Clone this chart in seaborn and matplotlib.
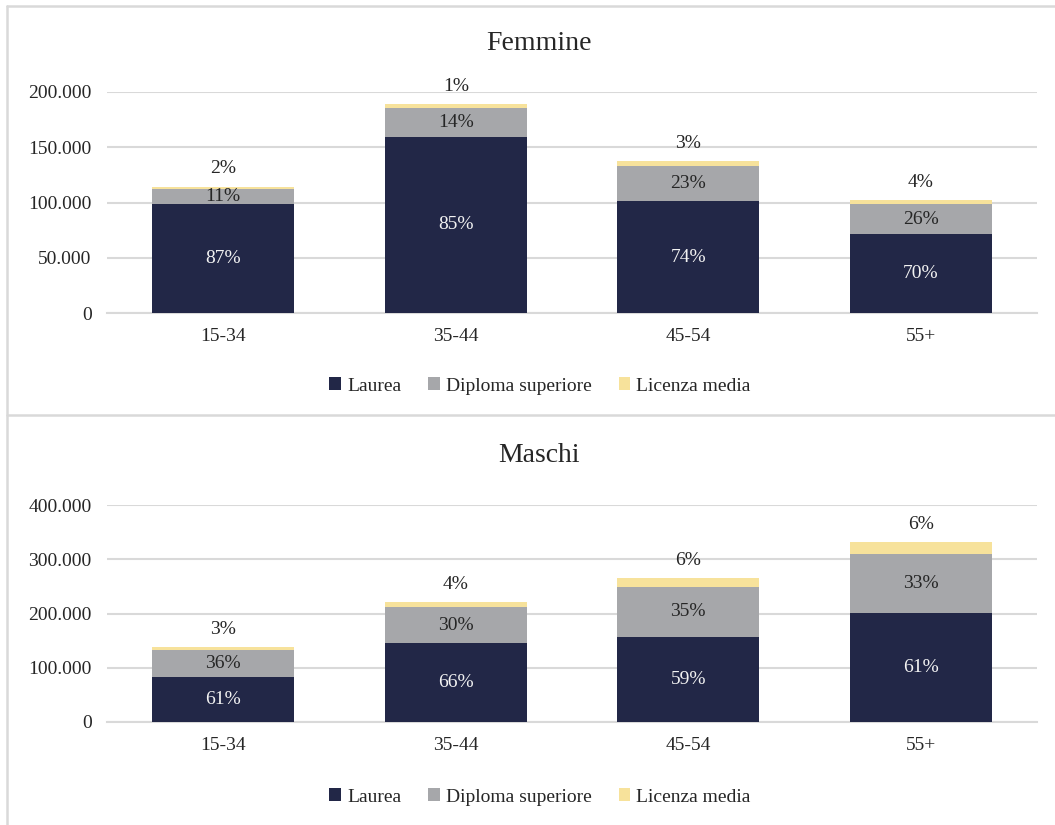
import numpy as np
import pandas as pd
import matplotlib
matplotlib.use("Agg")
import matplotlib.pyplot as plt
from matplotlib.patches import Patch
from matplotlib.lines import Line2D
import seaborn as sns

# ---- data ----
age_groups = ["15-34", "35-44", "45-54", "55+"]
series_names = ["Laurea", "Diploma superiore", "Licenza media"]

f_laurea = [99000, 159500, 101000, 71500]
f_diploma = [12800, 26300, 32000, 27000]
f_licenza = [2300, 3100, 4200, 3600]
f_lab_laurea = ["87%", "85%", "74%", "70%"]
f_lab_diploma = ["11%", "14%", "23%", "26%"]
f_lab_licenza = ["2%", "1%", "3%", "4%"]

m_laurea = [83500, 145000, 157000, 201000]
m_diploma = [50000, 67000, 92000, 109000]
m_licenza = [4500, 9000, 16000, 21000]
m_lab_laurea = ["61%", "66%", "59%", "61%"]
m_lab_diploma = ["36%", "30%", "35%", "33%"]
m_lab_licenza = ["3%", "4%", "6%", "6%"]

f_yticks = [0, 50000, 100000, 150000, 200000]
m_yticks = [0, 100000, 200000, 300000, 400000]

colors = ["#222747", "#A6A7AA", "#F7E29B"]
GRID = "#D9D9D9"
TXT = "#262626"

sns.set_theme(style="white")
plt.rcParams["font.family"] = ["Liberation Serif", "DejaVu Serif"]

fig = plt.figure(figsize=(10.55, 8.25), dpi=100)
W, H = 1055, 825
FS = 14


def fmt(v):
    return f"{int(v):,}".replace(",", ".")


def panel(rect, title, title_y, legend_y, laurea, diploma, licenza,
          lab_l, lab_d, lab_s, yticks):
    ax = fig.add_axes(rect)
    df = pd.DataFrame({
        "age": age_groups,
        "laurea": laurea,
        "diploma": diploma,
        "licenza": licenza,
    })
    df["cum2"] = df["laurea"] + df["diploma"]
    df["cum3"] = df["cum2"] + df["licenza"]
    for col, c in [("cum3", colors[2]), ("cum2", colors[1]), ("laurea", colors[0])]:
        sns.barplot(data=df, x="age", y=col, color=c, width=0.61,
                    saturation=1, ax=ax, zorder=3, linewidth=0,
                    edgecolor=c)
    for i in range(len(age_groups)):
        ax.text(i, df["laurea"][i] / 2, lab_l[i], ha="center", va="center",
                color="#F2F2F2", fontsize=FS, zorder=5)
        ax.text(i, df["laurea"][i] + df["diploma"][i] / 2, lab_d[i],
                ha="center", va="center", color=TXT, fontsize=FS, zorder=5)
        ax.annotate(lab_s[i], (i, df["cum3"][i]), xytext=(0, 13),
                    textcoords="offset points", ha="center", va="center",
                    color=TXT, fontsize=FS, zorder=5, annotation_clip=False)
    ax.set_ylim(yticks[0], yticks[-1])
    ax.set_xlim(-0.5, 3.5)
    ax.set_yticks(yticks)
    ax.set_yticklabels([fmt(v) for v in yticks], fontsize=FS, color=TXT)
    ax.set_xticks(range(len(age_groups)))
    ax.set_xticklabels(age_groups, fontsize=FS, color=TXT)
    ax.tick_params(axis="y", length=0, pad=11)
    ax.tick_params(axis="x", length=0, pad=11)
    ax.set_xlabel("")
    ax.set_ylabel("")
    ax.grid(axis="y", color=GRID, linewidth=1.5, zorder=0)
    ax.set_axisbelow(True)
    for s in ["top", "right", "left"]:
        ax.spines[s].set_visible(False)
    ax.spines["bottom"].set_color(GRID)
    ax.spines["bottom"].set_linewidth(1.5)
    fig.text(539 / W, 1 - title_y / H, title, ha="center", va="center",
             fontsize=20, color=TXT)
    handles = [Patch(facecolor=c, edgecolor="none") for c in colors]
    fig.legend(handles, series_names, loc="center",
               bbox_to_anchor=(540 / W, 1 - legend_y / H), ncol=3,
               frameon=False, fontsize=FS, handlelength=0.6,
               handleheight=0.6, handletextpad=0.3, columnspacing=1.4)
    return ax


panel([107 / W, 1 - 313 / H, 930 / W, 221 / H], "Femmine", 44, 386,
      f_laurea, f_diploma, f_licenza, f_lab_laurea, f_lab_diploma,
      f_lab_licenza, f_yticks)
panel([107 / W, 1 - 722 / H, 930 / W, 217 / H], "Maschi", 456, 797,
      m_laurea, m_diploma, m_licenza, m_lab_laurea, m_lab_diploma,
      m_lab_licenza, m_yticks)

# panel borders
fig.add_artist(Line2D([7 / W, 7 / W], [0, 1 - 6 / H], color=GRID, lw=1.8,
                      transform=fig.transFigure))
fig.add_artist(Line2D([7 / W, 1], [1 - 6 / H, 1 - 6 / H], color=GRID, lw=1.8,
                      transform=fig.transFigure))
fig.add_artist(Line2D([7 / W, 1], [1 - 415 / H, 1 - 415 / H], color=GRID,
                      lw=1.8, transform=fig.transFigure))

fig.savefig("out.png", dpi=100, facecolor="white")
